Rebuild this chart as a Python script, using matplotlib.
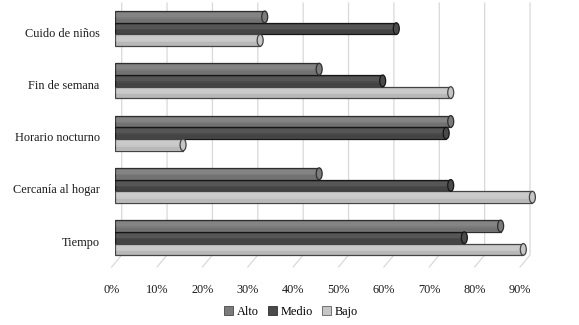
import matplotlib
matplotlib.use("Agg")
import matplotlib.pyplot as plt
from matplotlib.patches import Ellipse, Patch
from matplotlib.transforms import ScaledTranslation
import numpy as np

categories = ["Cuido de niños", "Fin de semana", "Horario nocturno", "Cercanía al hogar", "Tiempo"]
series = ["Alto", "Medio", "Bajo"]
alto = [0.33, 0.45, 0.74, 0.45, 0.85]
medio = [0.62, 0.59, 0.73, 0.74, 0.77]
bajo = [0.32, 0.74, 0.15, 0.92, 0.90]
ticks = [0.0, 0.1, 0.2, 0.3, 0.4, 0.5, 0.6, 0.7, 0.8, 0.9]
tick_labels = ["0%", "10%", "20%", "30%", "40%", "50%", "60%", "70%", "80%", "90%"]

colors = ["#7b7b7b", "#4a4a4a", "#c6c6c6"]
edges = ["#2e2e2e", "#161616", "#444444"]
font = ["Liberation Serif", "DejaVu Serif"]
fsize = 8.8

fig = plt.figure(figsize=(5.79, 3.25), dpi=100)
ax = fig.add_axes([115 / 579, 1 - 267 / 325, 431 / 579, 264 / 325])
ax.set_xlim(0, 0.95)
ax.set_ylim(4.56, -0.49)

# 3d-ish gridlines: back wall + slanted floor
px = 1 / 454.0
for t in ticks:
    ax.plot([t + 6.7 * px, t + 6.7 * px, t - 3.3 * px], [-0.49, 4.33, 4.56],
            color="#d9d9d9", lw=0.9, zorder=0, clip_on=False)

h = 0.224
y = np.arange(len(categories))
for k, vals in enumerate([alto, medio, bajo]):
    yy = y + (k - 1) * h
    ax.barh(yy, vals, height=h, color=colors[k], edgecolor=edges[k], linewidth=0.9, zorder=2)
    # cylinder shading
    ax.barh(yy - h * 0.15, vals, height=h * 0.35, color="white", alpha=0.07, linewidth=0, zorder=3)
    ax.barh(yy + h * 0.3, vals, height=h * 0.3, color="black", alpha=0.07, linewidth=0, zorder=3)
    for yv, v in zip(yy, vals):
        ax.add_patch(Ellipse((v, yv), width=6 * px, height=h, facecolor=colors[k],
                             edgecolor=edges[k], linewidth=0.9, zorder=4))

ax.set_yticks(y)
ax.set_yticklabels(categories, fontsize=fsize, family=font, color="#1a1a1a")
ax.set_xticks(ticks)
ax.set_xticklabels(tick_labels, fontsize=fsize, family=font, color="#1a1a1a")
ax.tick_params(axis="both", length=0)
ax.tick_params(axis="y", pad=11)
ax.tick_params(axis="x", pad=12)
for lbl in ax.get_yticklabels():
    lbl.set_transform(lbl.get_transform() + ScaledTranslation(0, -3.5 / 100, fig.dpi_scale_trans))
for lbl in ax.get_xticklabels():
    lbl.set_transform(lbl.get_transform() + ScaledTranslation(-3.3 / 100, 0, fig.dpi_scale_trans))
for s in ax.spines.values():
    s.set_visible(False)

handles = [Patch(facecolor=c, edgecolor=e, linewidth=0.5) for c, e in zip(colors, edges)]
fig.legend(handles, series, loc="center", bbox_to_anchor=(291 / 579, 1 - 312 / 325), ncol=3,
           frameon=False, handlelength=0.7, handleheight=0.7, handletextpad=0.3,
           columnspacing=0.8, prop={"family": font, "size": fsize})

fig.savefig("out.png", dpi=100)
